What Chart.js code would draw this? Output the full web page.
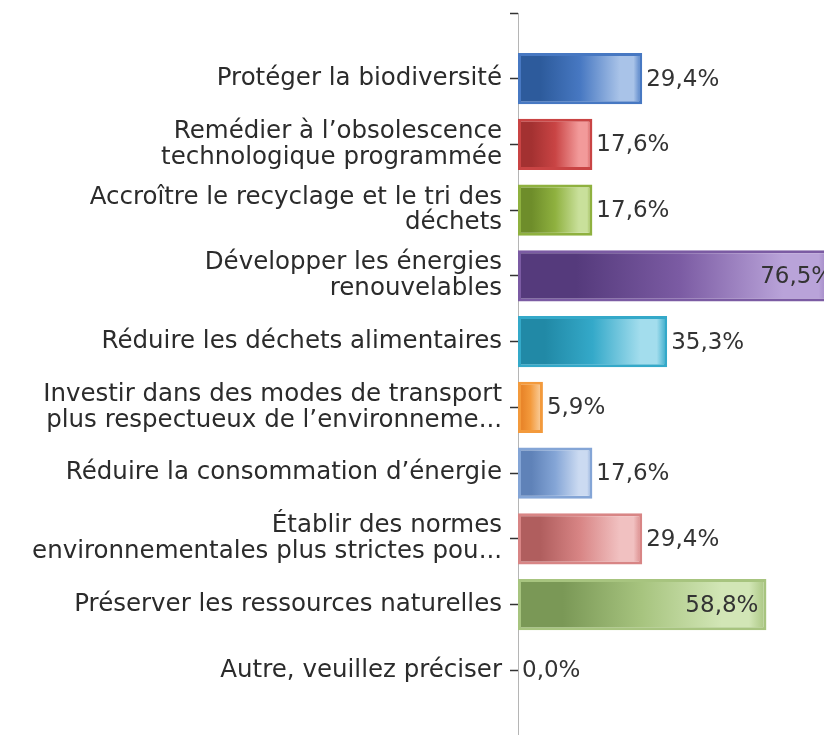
<!DOCTYPE html>
<html><head><meta charset="utf-8">
<script src="https://cdn.jsdelivr.net/npm/chart.js@4/dist/chart.umd.min.js"></script>
<style>html,body{margin:0;padding:0;overflow:hidden;background:#fff;width:824px;height:735px}canvas{display:block}</style>
</head><body>
<canvas id="c" width="856" height="749"></canvas>
<script>
const categories = [
  "Protéger la biodiversité",
  ["Remédier à l’obsolescence", "technologique programmée"],
  ["Accroître le recyclage et le tri des", "déchets"],
  ["Développer les énergies", "renouvelables"],
  "Réduire les déchets alimentaires",
  ["Investir dans des modes de transport", "plus respectueux de l’environneme..."],
  "Réduire la consommation d’énergie",
  ["Établir des normes", "environnementales plus strictes pou..."],
  "Préserver les ressources naturelles",
  "Autre, veuillez préciser"
];
const values = [29.4, 17.6, 17.6, 76.5, 35.3, 5.9, 17.6, 29.4, 58.8, 0.0];

const darkColors  = ['#2d5b9c', '#a33131', '#6e8d2a', '#553a7c', '#2189a6', '#e9862a', '#5f82b8', '#b05e5e', '#7a9856', '#8a78ac'];
const baseColors  = ['#4778c2', '#c94444', '#8fb13f', '#7b5ba3', '#34a9c9', '#f39a3c', '#84a5d6', '#d88585', '#a7c47f', '#a594c8'];
const lightColors = ['#a9c3e8', '#f29a9a', '#c9e09b', '#b9a3d9', '#a3dded', '#f8c184', '#cbdaf1', '#f1c1c1', '#d2e6b6', '#d6cce8'];

const FONT = '"DejaVu Sans", sans-serif';

function barGradient(c) {
  const i = c.dataIndex;
  const chart = c.chart;
  const xs = chart.scales && chart.scales.x;
  if (!xs || !chart.chartArea) return baseColors[i];
  const x0 = xs.getPixelForValue(0), x1 = xs.getPixelForValue(values[i]);
  if (!(x1 - x0 > 2)) return baseColors[i];
  const g = chart.ctx.createLinearGradient(x0, 0, x1, 0);
  g.addColorStop(0, darkColors[i]);
  g.addColorStop(0.18, darkColors[i]);
  g.addColorStop(0.5, baseColors[i]);
  g.addColorStop(0.82, lightColors[i]);
  g.addColorStop(0.93, lightColors[i]);
  g.addColorStop(1, baseColors[i]);
  return g;
}

const valueLabels = {
  id: 'valueLabels',
  afterDatasetsDraw(chart) {
    const ctx = chart.ctx;
    const meta = chart.getDatasetMeta(0);
    ctx.save();
    ctx.font = '23px ' + FONT;
    ctx.fillStyle = '#333333';
    ctx.textBaseline = 'middle';
    meta.data.forEach((bar, i) => {
      const v = values[i];
      const txt = v.toFixed(1).replace('.', ',') + '%';
      if (v > 50) {
        ctx.textAlign = 'right';
        ctx.fillText(txt, bar.x - 8, bar.y + 1);
      } else {
        ctx.textAlign = 'left';
        ctx.fillText(txt, bar.x + 4, bar.y + 1);
      }
    });
    ctx.restore();
  }
};

new Chart(document.getElementById('c'), {
  type: 'bar',
  data: {
    datasets: [{
      data: values.map((v, i) => ({ x: v, y: i })),
      backgroundColor: barGradient,
      borderColor: (c) => baseColors[c.dataIndex],
      borderWidth: (c) => (values[c.dataIndex] > 0 ? 3 : 0),
      borderSkipped: false,
      categoryPercentage: 1,
      barPercentage: 0.78
    }]
  },
  options: {
    indexAxis: 'y',
    responsive: false,
    animation: false,
    layout: { padding: { left: 0, right: 0, top: 13, bottom: 13 } },
    plugins: { legend: { display: false }, tooltip: { enabled: false } },
    scales: {
      x: { type: 'linear', display: false, min: 0, max: 80, offset: false },
      y: {
        type: 'linear',
        reverse: true,
        offset: false,
        min: -1,
        max: 10,
        afterFit: (s) => { s.width = 518; s.paddingTop = 0; s.paddingBottom = 0; },
        grid: { offset: false, drawOnChartArea: false, drawTicks: true, tickLength: 8, tickColor: '#333333', tickWidth: 1.5 },
        border: { display: true, color: '#b5b5b5', width: 1 },
        ticks: {
          stepSize: 1,
          autoSkip: false,
          maxTicksLimit: 20,
          padding: 8,
          color: '#2b2b2b',
          font: { family: FONT, size: 24.5, lineHeight: 1.05 },
          callback: (v) => (categories[v] !== undefined ? categories[v] : '')
        }
      }
    }
  },
  plugins: [valueLabels]
});
</script>
</body></html>
